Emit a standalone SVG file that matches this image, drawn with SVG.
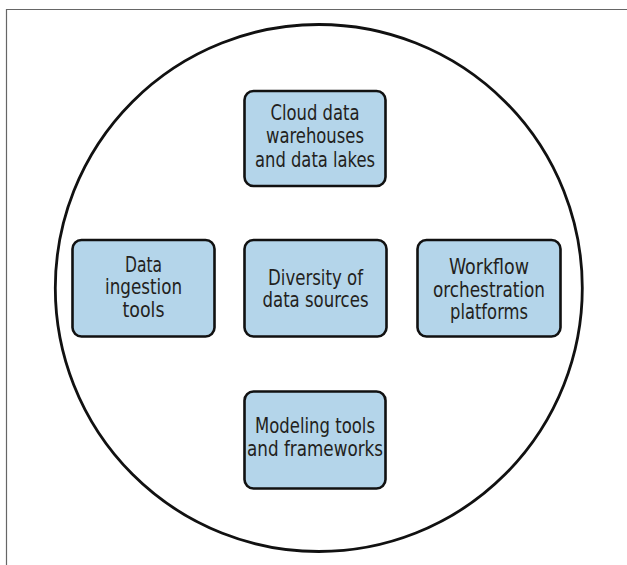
<svg xmlns="http://www.w3.org/2000/svg" width="627" height="565" viewBox="0 0 627 565">
<style>
.box{fill:#b4d5ea;stroke:#111;stroke-width:2.6}
.t{font-family:"DejaVu Sans Condensed","DejaVu Sans","Liberation Sans",sans-serif;font-stretch:condensed;font-size:21px;fill:#231f20;text-anchor:middle}
</style>
<rect width="627" height="565" fill="#fff"/>
<path d="M6.5,565 V9.5 H627" fill="none" stroke="#666" stroke-width="1.2"/>
<g id="connectors"></g>
<ellipse id="circle" cx="318.8" cy="288" rx="263.5" ry="263.5" fill="none" stroke="#111" stroke-width="2.8"/>
<g id="cloud">
<rect class="box" x="244.5" y="91" width="141" height="95" rx="9"/>
<text class="t"><tspan x="315" y="119.5" textLength="89" lengthAdjust="spacingAndGlyphs">Cloud data</tspan><tspan x="315" y="143" textLength="98" lengthAdjust="spacingAndGlyphs">warehouses</tspan><tspan x="315" y="166.5" textLength="120" lengthAdjust="spacingAndGlyphs">and data lakes</tspan></text>
</g>
<g id="ingestion">
<rect class="box" x="72.5" y="240" width="142" height="96.5" rx="9"/>
<text class="t"><tspan x="143.5" y="271.5" textLength="37" lengthAdjust="spacingAndGlyphs">Data</tspan><tspan x="143.5" y="294" textLength="77" lengthAdjust="spacingAndGlyphs">ingestion</tspan><tspan x="143.5" y="316.5" textLength="42" lengthAdjust="spacingAndGlyphs">tools</tspan></text>
</g>
<g id="diversity">
<rect class="box" x="244.5" y="240" width="142" height="96.5" rx="9"/>
<text class="t"><tspan x="315.5" y="284.5" textLength="95" lengthAdjust="spacingAndGlyphs">Diversity of</tspan><tspan x="315.5" y="306.5" textLength="106" lengthAdjust="spacingAndGlyphs">data sources</tspan></text>
</g>
<g id="workflow">
<rect class="box" x="417.5" y="240" width="143" height="96.5" rx="9"/>
<text class="t"><tspan x="489" y="274" textLength="80" lengthAdjust="spacingAndGlyphs">Workflow</tspan><tspan x="489" y="296.5" textLength="112" lengthAdjust="spacingAndGlyphs">orchestration</tspan><tspan x="489" y="319" textLength="78" lengthAdjust="spacingAndGlyphs">platforms</tspan></text>
</g>
<g id="modeling">
<rect class="box" x="244.5" y="391.5" width="141" height="97" rx="9"/>
<text class="t"><tspan x="315" y="433" textLength="120" lengthAdjust="spacingAndGlyphs">Modeling tools</tspan><tspan x="315" y="456" textLength="136" lengthAdjust="spacingAndGlyphs">and frameworks</tspan></text>
</g>
</svg>
